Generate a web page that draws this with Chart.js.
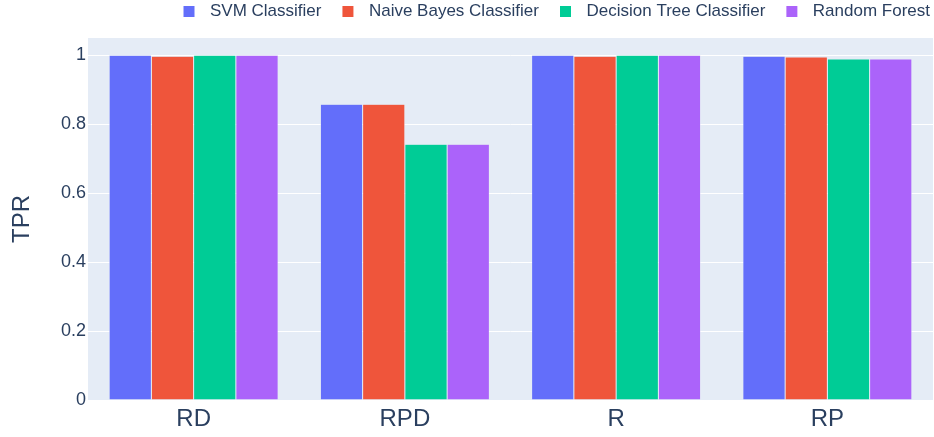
<!DOCTYPE html>
<html>
<head>
<meta charset="utf-8">
<script src="https://cdn.jsdelivr.net/npm/chart.js@4.4.1/dist/chart.umd.min.js"></script>
<style>
  html, body { margin: 0; padding: 0; background: #fff; }
  #wrap { width: 934px; height: 437px; }
</style>
</head>
<body>
<div id="wrap"><canvas id="chartBar"></canvas></div>
<script>
const categories = ["RD", "RPD", "R", "RP"];
const svmValues = [1.0, 0.858, 1.0, 0.997];
const naiveBayesValues = [0.997, 0.858, 0.997, 0.995];
const decisionTreeValues = [1.0, 0.742, 1.0, 0.989];
const randomForestValues = [1.0, 0.742, 1.0, 0.989];
const yTicks = [0, 0.2, 0.4, 0.6, 0.8, 1];

const FONT = "'Liberation Sans', Arial, sans-serif";
const TEXT = "#2a3f5f";
const PLOT_BG = "#E5ECF6";

function series(label, color, data) {
  return {
    label: label,
    data: data,
    backgroundColor: color,
    borderColor: PLOT_BG,
    borderWidth: 0.5,
    categoryPercentage: 0.8,
    barPercentage: 1.0,
  };
}

// small legend swatch with some blank room on its left (spacing like plotly)
function swatch(color) {
  const c = document.createElement("canvas");
  c.width = 36;
  c.height = 11;
  const g = c.getContext("2d");
  g.fillStyle = color;
  g.fillRect(18, 0, 11, 11);
  return c;
}

// paint the plot area background like plotly
const plotBackground = {
  id: "plotBackground",
  afterInit(chart) {
    // keep the legend row short but leave room above the plot
    const lg = chart.legend;
    const fit = lg.fit;
    lg.fit = function () {
      fit.call(this);
      this.height = 38;
    };
  },
  beforeDraw(chart) {
    const { ctx, chartArea: a } = chart;
    ctx.save();
    ctx.fillStyle = PLOT_BG;
    ctx.fillRect(a.left, a.top, a.right - a.left, a.bottom - a.top);
    ctx.restore();
  },
};

const dataBarChart = {
  labels: categories,
  datasets: [
    series("SVM Classifier", "#636efa", svmValues),
    series("Naive Bayes Classifier", "#EF553B", naiveBayesValues),
    series("Decision Tree Classifier", "#00cc96", decisionTreeValues),
    series("Random Forest", "#ab63fa", randomForestValues),
  ],
};

const configBarChart = {
  type: "bar",
  data: dataBarChart,
  plugins: [plotBackground],
  options: {
    responsive: true,
    maintainAspectRatio: false,
    animation: false,
    layout: { padding: { top: 0, right: 1, bottom: 0, left: 0 } },
    plugins: {
      tooltip: { enabled: false },
      legend: {
        position: "top",
        align: "end",
        labels: {
          usePointStyle: true,
          pointStyleWidth: 36,
          padding: 3,
          color: TEXT,
          font: { family: FONT, size: 17 },
          generateLabels(chart) {
            const items = Chart.defaults.plugins.legend.labels.generateLabels(chart);
            items.forEach(it => {
              it.pointStyle = swatch(chart.data.datasets[it.datasetIndex].backgroundColor);
            });
            return items;
          },
        },
      },
    },
    scales: {
      x: {
        grid: { display: false, drawTicks: false },
        border: { display: false },
        ticks: { color: TEXT, padding: 5, font: { family: FONT, size: 24 } },
        afterFit(scale) { scale.height = 37; },
      },
      y: {
        min: 0,
        max: 1.05,
        afterBuildTicks(scale) { scale.ticks = yTicks.map(v => ({ value: v })); },
        grid: { color: "#ffffff", lineWidth: 1, drawTicks: false },
        border: { display: false },
        ticks: {
          color: TEXT,
          padding: 2,
          font: { family: FONT, size: 18 },
          callback: v => String(v),
        },
        title: {
          display: true,
          text: "TPR",
          color: TEXT,
          padding: { top: 8, bottom: 4 },
          font: { family: FONT, size: 24 },
        },
        afterFit(scale) { scale.width = 88; },
      },
    },
  },
};

var chartBar = new Chart(document.getElementById("chartBar"), configBarChart);
</script>
</body>
</html>
